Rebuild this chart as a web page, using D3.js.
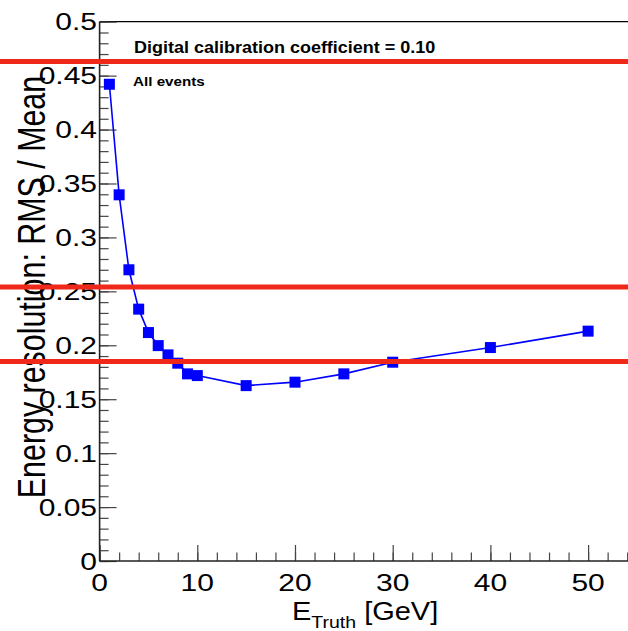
<!DOCTYPE html>
<html><head><meta charset="utf-8">
<script src="https://cdn.jsdelivr.net/npm/d3@7"></script>
<style>body{margin:0;background:#fff} svg{display:block}</style>
</head><body><svg id="c" width="628" height="631"></svg>
<script>
// ---- data ----
const energies = [1, 2, 3, 4, 5, 6, 7, 8, 9, 10, 15, 20, 25, 30, 40, 50];
const resolution = [0.442, 0.3395, 0.270, 0.2335, 0.2118, 0.1997, 0.1911, 0.1834, 0.1735, 0.1719, 0.1626, 0.1658, 0.1735, 0.1843, 0.1979, 0.2131];
const refLines = [0.463, 0.254, 0.185];
const xTickValues = [0, 10, 20, 30, 40, 50];
const xTickLabels = ["0", "10", "20", "30", "40", "50"];
const yTickValues = [0, 0.05, 0.1, 0.15, 0.2, 0.25, 0.3, 0.35, 0.4, 0.45, 0.5];
const yTickLabels = ["0", "0.05", "0.1", "0.15", "0.2", "0.25", "0.3", "0.35", "0.4", "0.45", "0.5"];
const xMinorValues = d3.range(0, 56, 2);
const yMinorValues = d3.range(0, 51).map(d => d / 100);
const titleText = "Digital calibration coefficient = 0.10";
const subText = "All events";

// ---- layout ----
const W = 628, H = 631;
const x = d3.scaleLinear().domain([0, 55]).range([99.6, 99.6 + 55 * 9.77]);
const y = d3.scaleLinear().domain([0, 0.5]).range([561, 21.7]);
const svg = d3.select("#c");
const FONT = "'Liberation Sans', Arial, Helvetica, sans-serif";
const SQ = 0.8; // vertical squash of glyphs

function label(g, txt, px, py, size, anchor, sq, weight) {
  return g.append("text")
    .attr("transform", `translate(${px},${py}) scale(1,${sq})`)
    .attr("text-anchor", anchor)
    .attr("font-family", FONT)
    .attr("font-size", size)
    .attr("font-weight", weight || "normal")
    .attr("fill", "#000")
    .text(txt);
}

// frame top
svg.append("line").attr("x1", x(0)).attr("x2", W + 10).attr("y1", y(0.5)).attr("y2", y(0.5))
  .attr("stroke", "#000").attr("stroke-width", 1.2);

// x axis ticks
const gx = svg.append("g").attr("transform", `translate(0,${y(0)})`);
gx.call(d3.axisTop(x).tickValues(xTickValues).tickSize(16).tickFormat(""));
const gxm = svg.append("g").attr("transform", `translate(0,${y(0)})`);
gxm.call(d3.axisTop(x).tickValues(xMinorValues).tickSize(8.5).tickFormat(""));
// y axis ticks
const gy = svg.append("g").attr("transform", `translate(${x(0)},0)`);
gy.call(d3.axisRight(y).tickValues(yTickValues).tickSize(17).tickFormat(""));
const gym = svg.append("g").attr("transform", `translate(${x(0)},0)`);
gym.call(d3.axisRight(y).tickValues(yMinorValues).tickSize(9).tickFormat(""));
svg.selectAll(".domain").remove();
svg.selectAll(".tick line").attr("stroke", "#444").attr("stroke-width", 1.2);

// axis lines
svg.append("line").attr("x1", x(0)).attr("x2", W + 10).attr("y1", y(0)).attr("y2", y(0))
  .attr("stroke", "#222").attr("stroke-width", 1.6);
svg.append("line").attr("x1", x(0)).attr("x2", x(0)).attr("y1", y(0)).attr("y2", y(0.5))
  .attr("stroke", "#222").attr("stroke-width", 1.6);

// tick labels
const gl = svg.append("g");
yTickValues.forEach((v, i) => label(gl, yTickLabels[i], 97, y(v) + 8.5, 30, "end", SQ));
xTickValues.forEach((v, i) => label(gl, xTickLabels[i], x(v), 591, 30, "middle", SQ));

// axis titles
const xt = svg.append("text")
  .attr("transform", `translate(292,620) scale(1,0.86)`)
  .attr("font-family", FONT).attr("font-size", 29).attr("fill", "#000");
xt.append("tspan").text("E");
xt.append("tspan").attr("font-size", 19.5).attr("dy", 9).text("Truth");
xt.append("tspan").attr("dy", -9).text(" [GeV]");

svg.append("text")
  .attr("transform", `translate(45,287) rotate(-90) scale(0.8,1)`)
  .attr("text-anchor", "middle")
  .attr("font-family", FONT).attr("font-size", 38).attr("fill", "#000")
  .text("Energy resolution: RMS / Mean");

// annotations
label(svg, titleText, 134, 53, 18, "start", 0.9, "bold");
label(svg, subText, 133, 85.5, 15.2, "start", 0.85, "bold");

// data line and markers
svg.append("path").datum(energies.map((e, i) => [e, resolution[i]]))
  .attr("fill", "none").attr("stroke", "#0000ff").attr("stroke-width", 1.6)
  .attr("d", d3.line().x(d => x(d[0])).y(d => y(d[1])));
const ms = 11;
svg.selectAll("rect.m").data(energies).enter().append("rect").attr("class", "m")
  .attr("x", (d) => x(d) - ms / 2)
  .attr("y", (d, i) => y(resolution[i]) - ms / 2)
  .attr("width", ms).attr("height", ms).attr("fill", "#0000ff");

// red reference lines
svg.selectAll("line.ref").data(refLines).enter().append("line").attr("class", "ref")
  .attr("x1", 0).attr("x2", W)
  .attr("y1", d => y(d)).attr("y2", d => y(d))
  .attr("stroke", "#f0281a").attr("stroke-width", 5);
</script></body></html>
